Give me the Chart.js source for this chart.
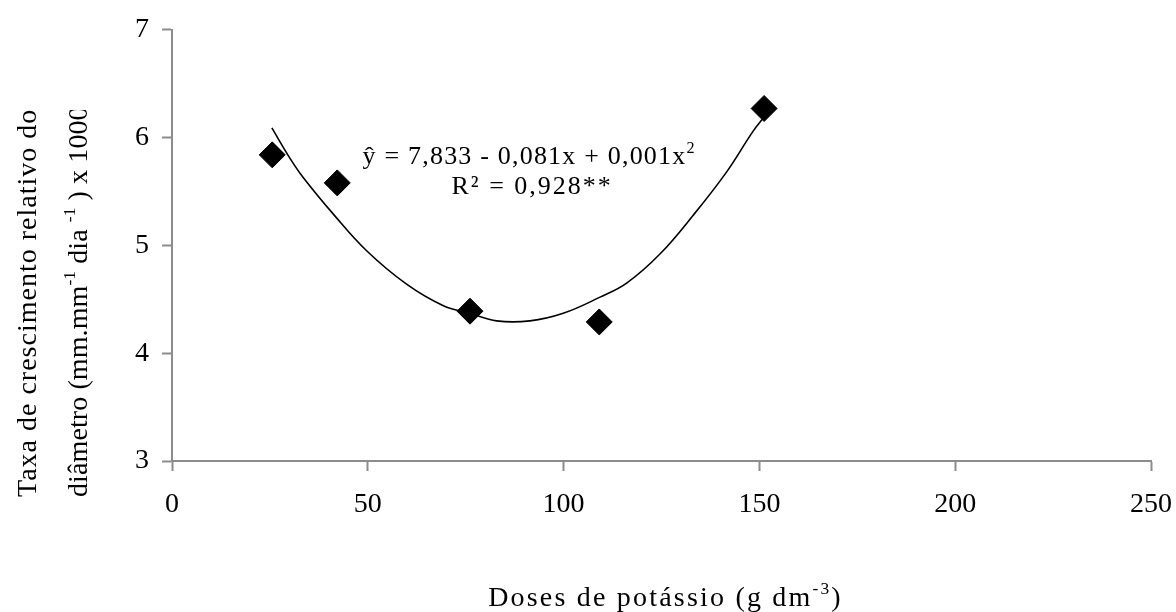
<!DOCTYPE html>
<html>
<head>
<meta charset="utf-8">
<script src="https://cdn.jsdelivr.net/npm/chart.js@4.4.1/dist/chart.umd.min.js"></script>
<style>
  html, body { margin: 0; padding: 0; background: #ffffff; }
  #wrap { width: 1176px; height: 612px; }
</style>
</head>
<body>
<div id="wrap"><canvas id="chart" width="1176" height="612"></canvas></div>
<script>
// Observed doses of potassium and the relative growth rate measured at each
const doses = [25.6, 42.2, 76.1, 109.1, 151.2];
const taxa = [5.84, 5.58, 4.39, 4.29, 6.27];

// Quadratic trend line, sampled along the dose range
const curveDoses = [25.5, 30.1, 33.5, 41.2, 49.7, 59.9, 69.3, 76.1, 82.9, 91.4, 99.9, 109.3, 116.1, 124.6, 133.1, 141.6, 148.4, 151.4];
const curveTaxa  = [6.09, 5.81, 5.63, 5.29, 4.95, 4.64, 4.44, 4.37, 4.30, 4.30, 4.37, 4.52, 4.65, 4.92, 5.28, 5.68, 6.06, 6.20];

// Axis tick values
const xTickValues = [0, 50, 100, 150, 200, 250];
const yTickValues = [3, 4, 5, 6, 7];

// Text runs (sup = superscript)
const equationRuns = [{ t: 'ŷ = 7,833 - 0,081x + 0,001x' }, { t: '2', sup: true }];
const r2Runs = [{ t: 'R² = 0,928**' }];
const xTitleRuns = [{ t: 'Doses de potássio (g dm' }, { t: '-3', sup: true }, { t: ')' }];
const yTitleLine1 = [{ t: 'Taxa de crescimento relativo do' }];
const yTitleLine2 = [{ t: 'diâmetro (mm.mm' }, { t: '-1', sup: true }, { t: ' dia ' }, { t: '-1', sup: true }, { t: ' ) x 1000' }];

const SERIF = '"Liberation Serif", "Times New Roman", serif';

function drawRuns(ctx, runs, x, y, size, spacing, align) {
  const widths = [];
  let total = 0;
  for (const r of runs) {
    const s = r.sup ? size * 0.62 : size;
    ctx.font = s + 'px ' + SERIF;
    if ('letterSpacing' in ctx) ctx.letterSpacing = spacing + 'px';
    const w = ctx.measureText(r.t).width;
    widths.push(w);
    total += w;
  }
  let cx = align === 'center' ? x - total / 2 : x;
  ctx.textAlign = 'left';
  ctx.textBaseline = 'alphabetic';
  runs.forEach((r, i) => {
    const s = r.sup ? size * 0.62 : size;
    ctx.font = s + 'px ' + SERIF;
    if ('letterSpacing' in ctx) ctx.letterSpacing = spacing + 'px';
    ctx.fillText(r.t, cx, r.sup ? y - size * 0.42 : y);
    cx += widths[i];
  });
}

// Draws the axis titles and the regression annotation
const textPlugin = {
  id: 'chartTexts',
  afterDraw(chart) {
    const ctx = chart.ctx;
    const xs = chart.scales.x, ys = chart.scales.y;
    ctx.save();
    ctx.fillStyle = '#000000';

    // regression equation and R², anchored in data space
    const cx = xs.getPixelForValue(91.2);
    drawRuns(ctx, equationRuns, cx, ys.getPixelForValue(5.753), 26, 1.2, 'center');
    drawRuns(ctx, r2Runs, cx + 3, ys.getPixelForValue(5.476), 26, 2, 'center');

    // x axis title
    drawRuns(ctx, xTitleRuns, (xs.left + xs.right) / 2 + 4, 606, 28, 2.2, 'center');

    // y axis title, two rotated lines inside a clipped text box
    ctx.save();
    ctx.beginPath();
    ctx.rect(0, 110, 120, 502);
    ctx.clip();
    ctx.save();
    ctx.translate(36, 497);
    ctx.rotate(-Math.PI / 2);
    drawRuns(ctx, yTitleLine1, 0, 0, 28, 1, 'left');
    ctx.restore();
    ctx.save();
    ctx.translate(87, 497);
    ctx.rotate(-Math.PI / 2);
    drawRuns(ctx, yTitleLine2, 0, 0, 28, 0.1, 'left');
    ctx.restore();
    ctx.restore();

    ctx.restore();
  }
};

const axisGrey = '#8c8c8c';
const tickFont = { family: SERIF, size: 28 };

new Chart(document.getElementById('chart'), {
  type: 'scatter',
  data: {
    datasets: [
      {
        label: 'Taxa observada',
        data: doses.map((d, i) => ({ x: d, y: taxa[i] })),
        showLine: false,
        pointStyle: 'rectRot',
        pointRadius: 13,
        pointBackgroundColor: '#000000',
        pointBorderColor: '#000000',
        pointBorderWidth: 1,
        order: 0
      },
      {
        label: 'Ajuste quadrático',
        data: curveDoses.map((d, i) => ({ x: d, y: curveTaxa[i] })),
        showLine: true,
        pointRadius: 0,
        borderColor: '#000000',
        borderWidth: 1.6,
        tension: 0.4,
        fill: false,
        order: 1
      }
    ]
  },
  options: {
    responsive: false,
    devicePixelRatio: 1,
    animation: false,
    layout: { padding: { top: 28, right: 25, left: 0, bottom: 0 } },
    plugins: {
      legend: { display: false },
      tooltip: { enabled: false },
      title: { display: false }
    },
    scales: {
      x: {
        type: 'linear',
        min: 0,
        max: 250,
        afterBuildTicks: (s) => { s.ticks = xTickValues.map(v => ({ value: v })); },
        afterFit: (s) => { s.height = 151; s.paddingLeft = 0; s.paddingRight = 0; },
        grid: { drawOnChartArea: false, drawTicks: true, tickLength: 10, color: axisGrey, tickWidth: 2 },
        border: { color: axisGrey, width: 2 },
        ticks: { color: '#000000', font: tickFont, padding: 17, maxRotation: 0 }
      },
      y: {
        type: 'linear',
        min: 3,
        max: 7,
        afterBuildTicks: (s) => { s.ticks = yTickValues.map(v => ({ value: v })); },
        afterFit: (s) => { s.width = 172; },
        grid: { drawOnChartArea: false, drawTicks: true, tickLength: 10, color: axisGrey, tickWidth: 2 },
        border: { color: axisGrey, width: 2 },
        ticks: { color: '#000000', font: tickFont, padding: 13 }
      }
    }
  },
  plugins: [textPlugin]
});
</script>
</body>
</html>
